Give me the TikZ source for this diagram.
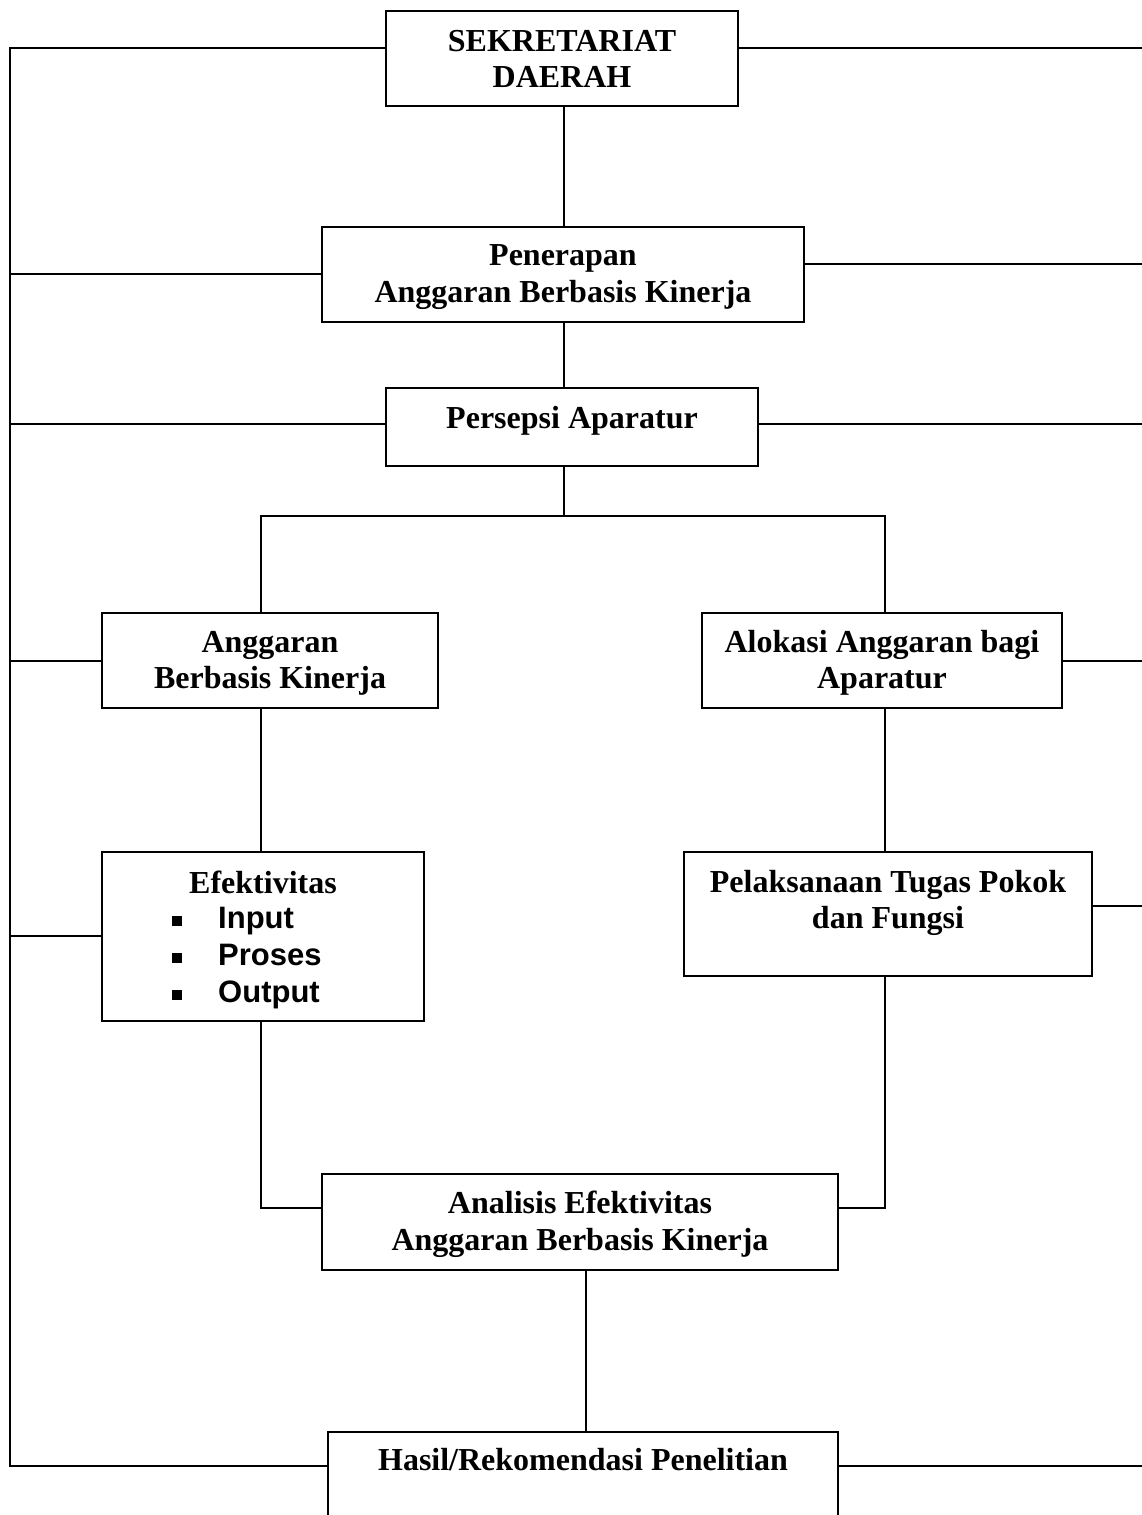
\documentclass[tikz,border=0pt]{standalone}
\usepackage{fontspec}
\setmainfont{Liberation Serif}
\newfontfamily\arialfont{Liberation Sans}
\usetikzlibrary{calc}
\begin{document}
\begin{tikzpicture}[x=1pt,y=-1pt,
  box/.style={draw, line width=2pt, inner sep=0pt, fill=white},
  ttl/.style={font=\fontsize{32}{37}\selectfont\bfseries, anchor=base, inner sep=0pt},
  itm/.style={font=\arialfont\fontsize{31}{37}\selectfont\bfseries, anchor=base west, inner sep=0pt},
  bul/.style={fill=black, inner sep=0pt, minimum size=10pt},
  wire/.style={line width=2pt}]
\useasboundingbox (0,0) rectangle (1142,1515);
\clip (0,0) rectangle (1142,1515);
\fill[white] (0,0) rectangle (1142,1515);

% boxes
\node[box, minimum width=352pt, minimum height=95pt] (sek) at (562,58.5) {};
\node[box, minimum width=482pt, minimum height=95pt] (pen) at (563,274.5) {};
\node[box, minimum width=372pt, minimum height=78pt] (per) at (572,427) {};
\node[box, minimum width=336pt, minimum height=95pt] (abk) at (270,660.5) {};
\node[box, minimum width=360pt, minimum height=95pt] (alo) at (882,660.5) {};
\node[box, minimum width=322pt, minimum height=169pt] (efe) at (263,936.5) {};
\node[box, minimum width=408pt, minimum height=124pt] (pel) at (888,914) {};
\node[box, minimum width=516pt, minimum height=96pt] (ana) at (580,1222) {};
\node[box, minimum width=510pt, minimum height=108pt] (has) at (583,1486) {};

% texts
\node[ttl] (sekA) at (562,51) {SEKRETARIAT};
\node[ttl] (sekB) at (562,87) {DAERAH};
\node[ttl] (penA) at (563,265) {Penerapan};
\node[ttl] (penB) at (563,302) {Anggaran Berbasis Kinerja};
\node[ttl] (perA) at (572,428) {Persepsi Aparatur};
\node[ttl] (abkA) at (270,652) {Anggaran};
\node[ttl] (abkB) at (270,688) {Berbasis Kinerja};
\node[ttl] (aloA) at (882,652) {Alokasi Anggaran bagi};
\node[ttl] (aloB) at (882,688) {Aparatur};
\node[ttl] (efeA) at (263,893) {Efektivitas};
\node[bul] (b1) at (177,920.5) {};
\node[bul] (b2) at (177,957.5) {};
\node[bul] (b3) at (177,994.5) {};
\node[itm] (i1) at (218,928) {Input};
\node[itm] (i2) at (218,965) {Proses};
\node[itm] (i3) at (218,1002) {Output};
\node[ttl] (pelA) at (888,892) {Pelaksanaan Tugas Pokok};
\node[ttl] (pelB) at (888,928) {dan Fungsi};
\node[ttl] (anaA) at (580,1213) {Analisis Efektivitas};
\node[ttl] (anaB) at (580,1250) {Anggaran Berbasis Kinerja};
\node[ttl] (hasA) at (583,1470) {Hasil/Rekomendasi Penelitian};

% helper coordinates
\coordinate (xL) at (10,0);
\coordinate (xR) at (1160,0);
\coordinate (cA) at (564,0);
\coordinate (cB) at (586,0);
\coordinate (jl) at (261,516);
\coordinate (jr) at (885,516);
\coordinate (jm) at (0,1208);
\coordinate (yS) at (0,48);
\coordinate (yP) at (0,274);
\coordinate (yPr) at (0,264);
\coordinate (yQ) at (0,424);
\coordinate (yA) at (0,661);
\coordinate (yE) at (0,936);
\coordinate (yPl) at (0,906);
\coordinate (yH) at (0,1466);

% spine connectors
\draw[wire] (cA|-sek.south) -- (cA|-pen.north);
\draw[wire] (cA|-pen.south) -- (cA|-per.north);
\draw[wire] (cA|-per.south) -- (cA|-jl);
\draw[wire] (jl|-abk.north) -- (jl) -- (jr) -- (jr|-alo.north);
\draw[wire] (jl|-abk.south) -- (jl|-efe.north);
\draw[wire] (jr|-alo.south) -- (jr|-pel.north);
\draw[wire] (jl|-efe.south) -- (jl|-jm) -- (ana.west|-jm);
\draw[wire] (jr|-pel.south) -- (jr|-jm) -- (ana.east|-jm);
\draw[wire] (cB|-ana.south) -- (cB|-has.north);

% left bus
\draw[wire] (sek.west|-yS) -- (xL|-yS) -- (xL|-yH) -- (has.west|-yH);
\draw[wire] (xL|-yP) -- (pen.west|-yP);
\draw[wire] (xL|-yQ) -- (per.west|-yQ);
\draw[wire] (xL|-yA) -- (abk.west|-yA);
\draw[wire] (xL|-yE) -- (efe.west|-yE);

% right lines
\draw[wire] (sek.east|-yS) -- (xR|-yS);
\draw[wire] (pen.east|-yPr) -- (xR|-yPr);
\draw[wire] (per.east|-yQ) -- (xR|-yQ);
\draw[wire] (alo.east|-yA) -- (xR|-yA);
\draw[wire] (pel.east|-yPl) -- (xR|-yPl);
\draw[wire] (has.east|-yH) -- (xR|-yH);
\end{tikzpicture}
\end{document}
